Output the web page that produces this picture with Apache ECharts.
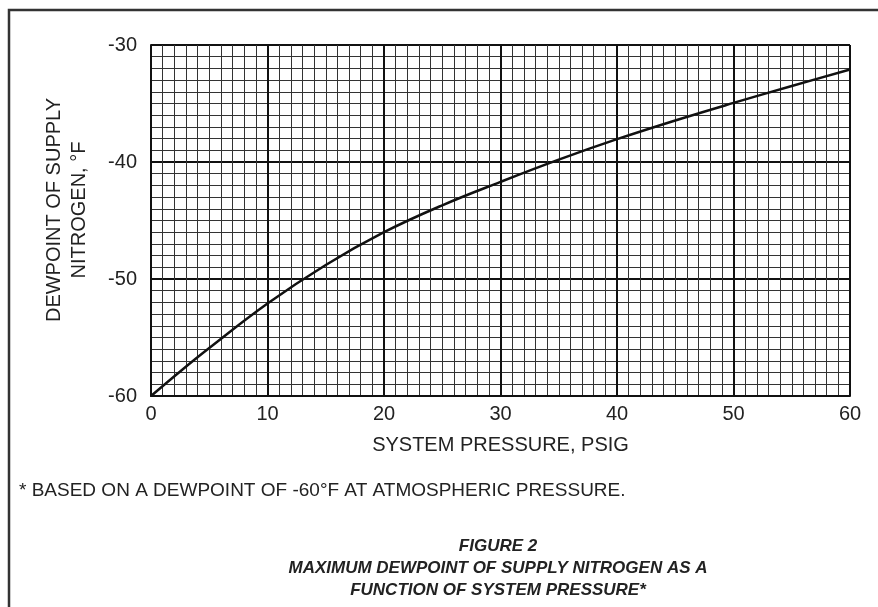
<!DOCTYPE html>
<html>
<head>
<meta charset="utf-8">
<script src="https://cdn.jsdelivr.net/npm/echarts@6/dist/echarts.min.js"></script>
<style>
html,body{margin:0;padding:0;background:#fff;}
#c{width:878px;height:607px;}
</style>
</head>
<body>
<div id="c"></div>
<script>
// Data
const pressurePsig = [0, 2.5, 5, 10, 15, 20, 25, 30, 35, 40, 45, 50, 55, 60];
const dewpointF   = [-60, -57.9, -55.9, -52.1, -48.8, -46.0, -43.7, -41.7, -39.8, -38.05, -36.45, -34.95, -33.5, -32.1];
const xTicks = [0, 10, 20, 30, 40, 50, 60];
const yTicks = [-60, -50, -40, -30];
const xTitle = 'SYSTEM PRESSURE, PSIG';
const yTitle = 'DEWPOINT OF SUPPLY\nNITROGEN, °F';
const footnote = '* BASED ON A DEWPOINT OF -60°F AT ATMOSPHERIC PRESSURE.';
const figTitleLines = ['FIGURE 2', 'MAXIMUM DEWPOINT OF SUPPLY NITROGEN AS A', 'FUNCTION OF SYSTEM PRESSURE*'];

const chart = echarts.init(document.getElementById('c'), null, {renderer: 'canvas'});
const txt = '#222';
const font = 'Liberation Sans, Arial, Helvetica, sans-serif';

chart.setOption({
  animation: false,
  backgroundColor: '#fff',
  grid: {left: 151, right: 28, top: 45, bottom: 211, containLabel: false},
  xAxis: {
    type: 'value', min: xTicks[0], max: xTicks[xTicks.length - 1], interval: 10,
    name: xTitle, nameLocation: 'middle', nameGap: 39,
    nameTextStyle: {color: txt, fontSize: 20, fontFamily: font},
    axisLine: {show: true, lineStyle: {color: '#111', width: 2}},
    axisTick: {show: false},
    axisLabel: {color: txt, fontSize: 20, fontFamily: font, margin: 8},
    splitLine: {show: true, lineStyle: {color: '#111', width: 2}},
    minorTick: {show: false, splitNumber: 10},
    minorSplitLine: {show: true, lineStyle: {color: '#333', width: 1}}
  },
  yAxis: {
    type: 'value', min: yTicks[0], max: yTicks[yTicks.length - 1], interval: 10,
    axisLine: {show: true, lineStyle: {color: '#111', width: 2}},
    axisTick: {show: false},
    axisLabel: {color: txt, fontSize: 20, fontFamily: font, margin: 14},
    splitLine: {show: true, lineStyle: {color: '#111', width: 2}},
    minorTick: {show: false, splitNumber: 10},
    minorSplitLine: {show: true, lineStyle: {color: '#333', width: 1}}
  },
  series: [{
    type: 'line',
    data: pressurePsig.map((p, i) => [p, dewpointF[i]]),
    smooth: 0.4,
    showSymbol: false,
    lineStyle: {color: '#111', width: 2.5},
    z: 5
  }],
  graphic: [
    {type: 'rect', shape: {x: 9, y: 10, width: 1000, height: 1000},
     style: {fill: 'none', stroke: '#333', lineWidth: 2.5}, silent: true},
    {type: 'text', x: 67, y: 210, rotation: Math.PI / 2,
     style: {text: yTitle, fill: txt, font: '20px ' + font, align: 'center',
             verticalAlign: 'middle', lineHeight: 25}},
    {type: 'text', x: 19, y: 491,
     style: {text: footnote, fill: txt, font: '19px ' + font, verticalAlign: 'middle'}}
  ].concat(figTitleLines.map((t, i) => ({
    type: 'text', x: 498, y: 546 + i * 22,
    style: {text: t, fill: txt, font: 'italic bold 17px ' + font, align: 'center', verticalAlign: 'middle'}
  })))
});
</script>
</body>
</html>
